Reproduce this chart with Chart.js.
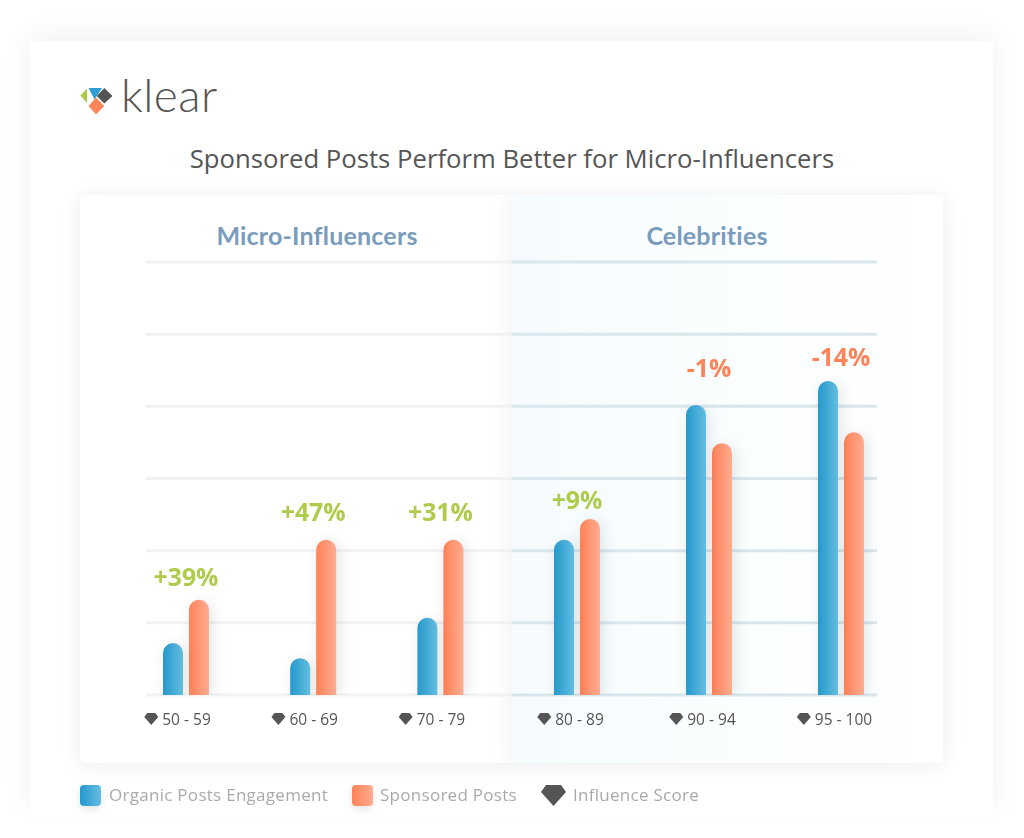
<!DOCTYPE html>
<html><head><meta charset="utf-8">
<script src="https://cdn.jsdelivr.net/npm/chart.js@4/dist/chart.umd.min.js"></script>
<style>
html,body{margin:0;padding:0;background:#fff;width:1024px;height:838px;overflow:hidden;position:relative}
.abs{position:absolute;white-space:nowrap}
#outer{left:30px;top:41px;width:963px;height:777px;background:#fff;box-shadow:0 -6px 30px rgba(0,0,0,.06)}
#fade{left:0;top:800px;width:1024px;height:38px;background:linear-gradient(180deg,rgba(255,255,255,0),#fff 70%)}
#card{left:80px;top:195px;width:863px;height:568px;background:#fff;border-radius:6px;box-shadow:0 2px 22px rgba(0,0,0,.08);overflow:hidden}
#panel{position:absolute;left:432px;top:0;width:431px;height:568px;background:linear-gradient(90deg,#f5fbfe 0%,#fbfeff 55%,#feffff 100%);box-shadow:-4px 0 20px rgba(0,0,0,.05)}
canvas{position:absolute;left:0;top:0}
#title{left:0;width:1024px;text-align:center;top:142px;font:400 25.7px "Open Sans",sans-serif;color:#555;line-height:34px}
.head{top:219px;width:300px;text-align:center;font:700 25px Lato,sans-serif;color:#7a9cbc;line-height:32px;letter-spacing:.2px}
#brand{left:121px;top:66px;font:300 46px Lato,sans-serif;color:#555;line-height:58px;letter-spacing:.4px}
.leg{top:783px;font:400 17px "Open Sans",sans-serif;color:#aaa;line-height:24px;letter-spacing:.28px}
.sw{top:785px;width:21px;height:21px;border-radius:4px;box-shadow:0 3px 8px rgba(0,0,0,.1)}
</style></head><body>
<div class="abs" id="outer"></div>
<div class="abs" id="fade"></div>
<div class="abs" id="card"><div id="panel"></div></div>
<svg class="abs" style="left:0;top:0" width="1024" height="130">
<polygon points="80.5,95.5 87,88.5 87,103" fill="#a9cb45"/>
<polygon points="88.5,88 102,88 94.5,99.5" fill="#2b9fd3"/>
<polygon points="104.3,88 112.5,96 104.3,103.5 96.7,96" fill="#555"/>
<polygon points="96,97.5 104.3,106 96,114.5 88.5,106" fill="#ff8659"/>
</svg>
<div class="abs" id="brand">klear</div>
<div class="abs" id="title">Sponsored Posts Perform Better for Micro-Influencers</div>
<div class="abs head" style="left:167px">Micro-Influencers</div>
<div class="abs head" style="left:557px">Celebrities</div>
<canvas id="chartMicro" width="1024" height="838"></canvas>
<canvas id="chartCeleb" width="1024" height="838"></canvas>
<div class="abs sw" style="left:80px;background:linear-gradient(90deg,#2598cc,#64bde0)"></div>
<div class="abs leg" style="left:109px">Organic Posts Engagement</div>
<div class="abs sw" style="left:352px;background:linear-gradient(90deg,#ff8258,#ffac90)"></div>
<div class="abs leg" style="left:380px">Sponsored Posts</div>
<svg class="abs" style="left:541px;top:785px" width="25" height="21"><polygon points="5,0 20,0 25,7 12.5,21 0,7" fill="#555"/></svg>
<div class="abs leg" style="left:573px">Influence Score</div>
<script>
const microBands = ["50 - 59","60 - 69","70 - 79"];
const microOrganic = [0.72,0.51,1.07];
const microSponsored = [1.32,2.15,2.15];
const microChanges = ["+39%","+47%","+31%"];
const microChangeLevels = [1.61,2.51,2.51];

const celebBands = ["80 - 89","90 - 94","95 - 100"];
const celebOrganic = [2.15,4.02,4.35];
const celebSponsored = [2.44,3.49,3.64];
const celebChanges = ["+9%","-1%","-14%"];
const celebChangeLevels = [2.675,4.505,4.655];

const gridTicks = [0,1,2,3,4,5,6];
const gradStops = [["#2598cc","#64bde0"],["#ff8258","#ffac90"]];

function panelPlugin(cfg){
  return {
    id:'panelDraw',
    beforeDatasetsDraw(chart){
      const {ctx,scales:{y}} = chart;
      ctx.save();
      ctx.lineWidth = 3;
      ctx.strokeStyle = cfg.gridColor;
      y.ticks.forEach(t=>{
        const py = y.getPixelForValue(t.value);
        ctx.beginPath();ctx.moveTo(cfg.gridFrom,py);ctx.lineTo(cfg.gridTo,py);ctx.stroke();
      });
      ctx.restore();
    },
    beforeDatasetDraw(chart,args){
      const {ctx} = chart;
      const stops = gradStops[args.index];
      args.meta.data.forEach(el=>{
        const g = ctx.createLinearGradient(el.x-el.width/2,0,el.x+el.width/2,0);
        g.addColorStop(0,stops[0]);g.addColorStop(1,stops[1]);
        el.options = Object.assign({},el.options,{backgroundColor:g});
      });
      ctx.save();
      ctx.shadowColor='rgba(0,0,0,.10)';ctx.shadowBlur=14;ctx.shadowOffsetX=3;ctx.shadowOffsetY=2;
    },
    afterDatasetDraw(chart){chart.ctx.restore();},
    afterDraw(chart){
      const {ctx,scales:{x,y}} = chart;
      ctx.save();
      ctx.textAlign='center';ctx.textBaseline='middle';
      ctx.font='700 24.8px "Open Sans", sans-serif';
      cfg.changes.forEach((s,i)=>{
        ctx.fillStyle = s[0]==='+' ? '#aecb4b' : '#ff8258';
        ctx.fillText(s,x.getPixelForValue(i),y.getPixelForValue(cfg.levels[i]));
      });
      ctx.font='15.5px "Open Sans", sans-serif';
      ctx.fillStyle='#555';
      cfg.bands.forEach((s,i)=>{
        const w = ctx.measureText(s).width;
        const right = x.getPixelForValue(i)+cfg.labelShift-w/2-4, left = right-14, top = y.getPixelForValue(0)+18;
        ctx.beginPath();
        ctx.moveTo(left+3,top);ctx.lineTo(right-3,top);ctx.lineTo(right,top+4);ctx.lineTo(left+7,top+12);ctx.lineTo(left,top+4);ctx.closePath();ctx.fill();
      });
      ctx.restore();
    }
  };
}

function makeChart(id,cfg){
  return new Chart(document.getElementById(id),{
    type:'bar',
    data:{labels:cfg.bands,datasets:[
      {label:'Organic Posts Engagement',data:cfg.organic,backgroundColor:'#2598cc'},
      {label:'Sponsored Posts',data:cfg.sponsored,backgroundColor:'#ff8258'}
    ]},
    plugins:[panelPlugin(cfg)],
    options:{
      responsive:false,animation:false,devicePixelRatio:1,
      layout:{padding:{left:cfg.padLeft,right:cfg.padRight,top:262,bottom:103}},
      datasets:{bar:{categoryPercentage:cfg.catPct,barPercentage:0.769,borderRadius:{topLeft:10,topRight:10,bottomLeft:0,bottomRight:0},borderSkipped:false}},
      plugins:{legend:{display:false},tooltip:{enabled:false},title:{display:false}},
      scales:{
        x:{type:'category',grid:{display:false,drawTicks:false},border:{display:false},
           ticks:{color:'#555',font:{family:'"Open Sans"',size:15.5},padding:16,labelOffset:cfg.labelShift,maxRotation:0,autoSkip:false},
           afterFit(s){s.height=40;}},
        y:{min:0,max:6,display:true,grid:{display:false},border:{display:false},
           ticks:{display:false,stepSize:1},
           afterBuildTicks(s){s.ticks=gridTicks.map(v=>({value:v}));},
           afterFit(s){s.width=0;}}
      }
    }
  });
}

makeChart('chartMicro',{bands:microBands,organic:microOrganic,sponsored:microSponsored,changes:microChanges,levels:microChangeLevels,
  padLeft:122.4,padRight:520,catPct:0.4086,labelShift:0.5,gridFrom:146,gridTo:512,gridColor:'#f0f2f3'});
makeChart('chartCeleb',{bands:celebBands,organic:celebOrganic,sponsored:celebSponsored,changes:celebChanges,levels:celebChangeLevels,
  padLeft:511,padRight:117,catPct:0.3939,labelShift:2.5,gridFrom:512,gridTo:877,gridColor:'#d9e6ec'});
</script>
</body></html>
